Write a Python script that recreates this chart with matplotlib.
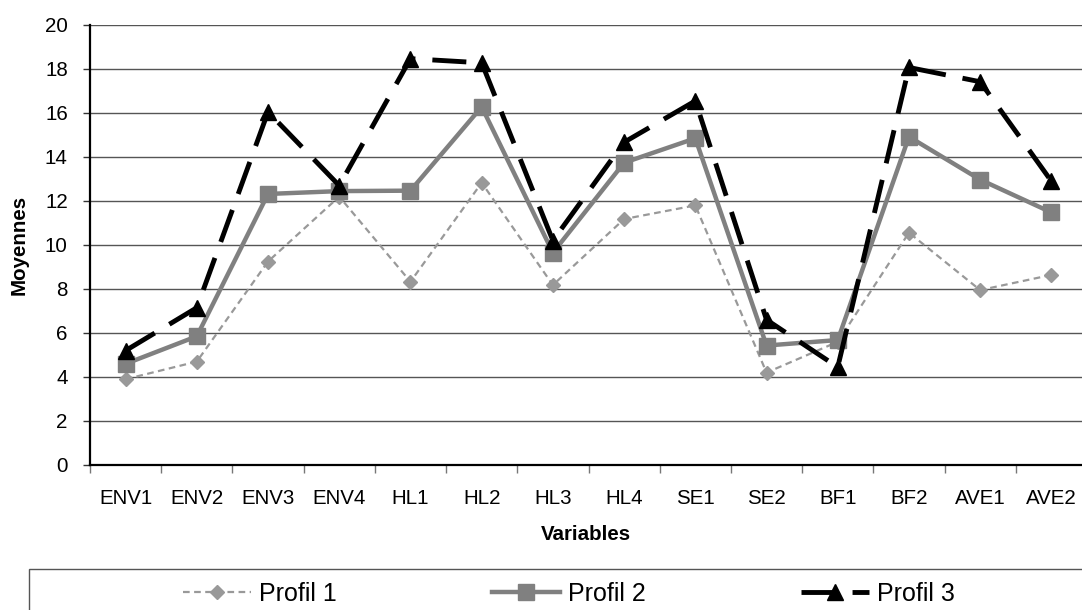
import matplotlib
matplotlib.use("Agg")
import matplotlib.pyplot as plt
from matplotlib.patches import Rectangle

categories = ["ENV1", "ENV2", "ENV3", "ENV4", "HL1", "HL2", "HL3", "HL4",
              "SE1", "SE2", "BF1", "BF2", "AVE1", "AVE2"]
profil1 = [3.9, 4.7, 9.25, 12.2, 8.33, 12.83, 8.18, 11.18, 11.8, 4.2, 5.6, 10.56, 7.95, 8.64]
profil2 = [4.6, 5.85, 12.32, 12.45, 12.47, 16.28, 9.65, 13.74, 14.85, 5.43, 5.68, 14.92, 12.97, 11.48]
profil3 = [5.2, 7.15, 16.05, 12.7, 18.47, 18.28, 10.2, 14.67, 16.55, 6.6, 4.45, 18.07, 17.42, 12.9]
series_names = ["Profil 1", "Profil 2", "Profil 3"]
yticks = [0, 2, 4, 6, 8, 10, 12, 14, 16, 18, 20]

plt.rcParams['font.family'] = ['Liberation Sans', 'DejaVu Sans']

W, H = 1082, 610
fig = plt.figure(figsize=(W / 100, H / 100), dpi=100)
ax = fig.add_axes([90 / W, (H - 465) / H, (1087 - 90) / W, (465 - 25) / H])

x = list(range(len(categories)))
l1, = ax.plot(x, profil1, color="#999999", lw=1.6, ls=(0, (3, 2)),
              marker="D", ms=7.5, mfc="#999999", mec="#999999", zorder=3)
l2, = ax.plot(x, profil2, color="#808080", lw=3.2, ls="-",
              marker="s", ms=11.5, mfc="#808080", mec="#808080", zorder=4)
l3, = ax.plot(x, profil3, color="black", lw=3.5, ls=(0, (7, 3.5)),
              marker="^", ms=11, mfc="black", mec="black", zorder=5)

ax.set_xlim(-0.5, len(categories) - 0.5)
ax.set_ylim(0, 20)
ax.set_yticks(yticks)
ax.set_yticklabels([str(v) for v in yticks])
ax.set_xticks(x)
ax.set_xticklabels(categories)
ax.set_xticks([i - 0.5 for i in range(len(categories) + 1)], minor=True)

ax.tick_params(axis="x", which="major", length=0, pad=17, labelsize=14.8)
ax.tick_params(axis="x", which="minor", length=6, width=1, color="#777777", direction="out")
ax.tick_params(axis="y", which="major", length=5, width=1, color="#333333",
               direction="out", pad=11, labelsize=14.8)

ax.yaxis.grid(True, color="#555555", lw=1.0)
ax.set_axisbelow(True)
for s in ["top", "right"]:
    ax.spines[s].set_visible(False)
for s in ["left", "bottom"]:
    ax.spines[s].set_color("black")
    ax.spines[s].set_linewidth(1.6)

ax.set_ylabel("Moyennes", fontsize=14.8, fontweight="bold")
ax.yaxis.set_label_coords((29 - 90) / 997, 0.5)
ax.set_xlabel("Variables", fontsize=14.8, fontweight="bold")
ax.xaxis.set_label_coords(0.497, (465 - 525) / 440)

# legend frame
fig.patches.append(Rectangle((29 / W, -0.1), 1.2, (H - 569) / H + 0.1,
                             transform=fig.transFigure, fill=False,
                             edgecolor="#555555", lw=1.0))
leg = fig.legend([l1, l2, l3], series_names, loc="center left",
                 bbox_to_anchor=(183 / W, (H - 594) / H), ncol=3, frameon=False,
                 fontsize=18, handlelength=2.7, handletextpad=0.35,
                 columnspacing=6.2, borderpad=0, borderaxespad=0, numpoints=1)

fig.savefig("out.png", dpi=100)
